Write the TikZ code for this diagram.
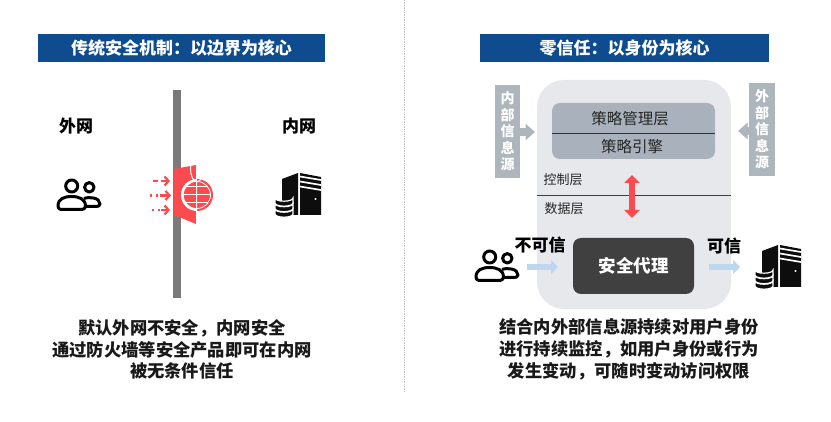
\documentclass[tikz,border=0pt]{standalone}
\usepackage{fontspec}
\setmainfont{Noto Sans CJK SC}
\usetikzlibrary{arrows.meta}
\definecolor{hdr}{HTML}{0F4C8F}
\definecolor{redc}{HTML}{FB4B4E}
\definecolor{panel}{HTML}{E7E8EC}
\definecolor{pol}{HTML}{A9B2BC}
\definecolor{src}{HTML}{ADB5BD}
\definecolor{dark}{HTML}{404040}
\definecolor{blu}{HTML}{BDD7F0}
\newcommand{\usersicon}[1]{%
\begin{scope}[shift={(#1)},line width=3pt,line join=round]
 \draw (28,22.5) .. controls (33,20.5) and (44,21.5) .. (44,28) .. controls (44,30) and (42,30.5) .. (40,30.5) -- (30,30.5);
 \draw[fill=white] (2,30) .. controls (2,23) and (8,20.5) .. (15.5,20.5) .. controls (23,20.5) and (29.5,23) .. (29.5,30) .. controls (29.5,32) and (28,33.5) .. (26,33.5) -- (5,33.5) .. controls (3,33.5) and (2,32) .. (2,30) -- cycle;
 \draw (15.7,10) circle (6);
 \draw (33.3,11.3) circle (4.7);
\end{scope}}
\newcommand{\servericon}[1]{%
\begin{scope}[shift={(#1)}]
 \fill[black!95] (7,6) -- (23,0) -- (23,42) -- (7,42) -- cycle;
 \fill[black!95] (25,0) -- (46,4) -- (46,42) -- (25,42) -- cycle;
 \foreach \y in {3.5,8.5,13.5}{\draw[white,line width=1.7pt] (25,\y) -- (46,\y+3.5);}
 \fill[white] (40.5,26) circle (1.1);
 \foreach \y in {36,30.5,25}{
  \draw[white,line width=1.2pt,fill=black!95] (0,\y) -- (0,\y+5) arc[start angle=180,end angle=0,x radius=9,y radius=3.2] -- (18,\y) arc[start angle=0,end angle=180,x radius=9,y radius=3.2] -- cycle;
 }
\end{scope}}
\tikzset{
 x=1pt,y=-1pt,
 every node/.style={inner sep=0,outer sep=0,align=center},
 header/.style={fill=hdr,text=white,font=\fontsize{17}{20}\selectfont\bfseries},
 label/.style={font=\fontsize{17}{20}\selectfont\bfseries,text=black},
 body/.style={font=\fontsize{17.3}{21.7}\selectfont\bfseries,text=black!90},
 srcbox/.style={fill=src,text=white,font=\fontsize{14}{16.5}\selectfont\bfseries},
 poltext/.style={font=\fontsize{15.5}{17}\selectfont,text=black!85},
 laytext/.style={font=\fontsize{13}{15}\selectfont,text=black!85},
 dart/.style={redc,line width=2.2pt,-{Straight Barb[length=4pt,width=9pt]}},
 fat/.style={line width=6.5pt,-{Triangle[length=7pt,width=14pt]}},
 srcarrow/.style={line width=8.5pt,-{Triangle[length=9.5pt,width=16pt]}},
}
\begin{document}
\begin{tikzpicture}
\useasboundingbox (0,0) rectangle (831,422);
\fill[white] (0,0) rectangle (831,422);
\draw[black!25,densely dotted,line width=.7pt] (404,0) -- (404,392);
% headers
\node[header,minimum width=287pt,minimum height=28pt] (h1) at (181.5,48) {传统安全机制：以边界为核心};
\node[header,minimum width=289pt,minimum height=28pt] (h2) at (624.5,48) {零信任：以身份为核心};
% left
\node[label] (wai) at (76,126) {外网};
\node[label] (nei) at (299,126) {内网};
\usersicon{56,176}
\fill[black!52] (173,90) rectangle (181,298);
\fill[redc] (174,169) -- (196,165) -- (196,224) -- (174,215) -- cycle;
\begin{scope}
 \clip (197,170) rectangle (220,220);
 \fill[redc] (197,195) circle (16);
 \draw[white,line width=.8pt] (197,195) circle (13.5);
\end{scope}
\begin{scope}
 \clip (170,170) rectangle (197,220);
 \fill[white] (197,195) circle (16);
 \fill[redc] (197,195) circle (13.2);
\end{scope}
\draw[white,line width=1.2pt] (196.5,165) -- (196.5,225);
\draw[white,line width=1pt] (197,181.8) arc[start angle=90,end angle=270,x radius=6.5,y radius=13.2];
\draw[white,line width=1pt] (197,181.8) arc[start angle=90,end angle=-90,x radius=6.5,y radius=13.2];
\foreach \yy/\hw in {187/11,195/13.2,203/11}{\draw[white,line width=1pt] (197-\hw,\yy) -- (197+\hw,\yy);}
\draw[redc,line width=2.2pt,dash pattern=on 5pt off 3pt] (153,181) -- (161,181);
\draw[dart] (161,181) -- (170,181);
\draw[redc,line width=2.2pt,dash pattern=on 2pt off 3.5pt] (150,195.5) -- (160,195.5);
\draw[dart] (160,195.5) -- (171,195.5);
\draw[redc,line width=2.2pt,dash pattern=on 2pt off 3.5pt] (152,210) -- (161,210);
\draw[dart] (161,210) -- (170,210);
\servericon{275,173}
\node[body] (t1) at (182,349.5) {默认外网不安全，内网安全\\通过防火墙等安全产品即可在内网\\被无条件信任};
% right
\fill[panel,rounded corners=27pt] (537,80) rectangle (731,309);
\fill[pol,rounded corners=8pt] (552,103) rectangle (715,159);
\draw[black!80,line width=.8pt] (552,133) -- (715,133);
\node[poltext] (p1) at (630,119) {策略管理层};
\node[poltext] (p2) at (632,147) {策略引擎};
\node[laytext] (c1) at (563,180) {控制层};
\node[laytext] (c2) at (564,209) {数据层};
\draw[black!75,line width=.8pt] (537,195) -- (731,195);
\draw[redc,line width=6.5pt,{Triangle[length=8pt,width=15pt]}-{Triangle[length=8pt,width=15pt]}] (632,175) -- (632,218);
\fill[src] (495,85) rectangle (520,178);
\node[srcbox,minimum width=25pt] (s1) at (507.5,131.5) {内\\部\\信\\息\\源};
\fill[src] (749,83) rectangle (775,176);
\node[srcbox,minimum width=26pt] (s2) at (762,129.5) {外\\部\\信\\息\\源};
\coordinate (a1) at (520,132); \coordinate (a2) at (535,132);
\draw[src,srcarrow] (a1) -- (a2);
\coordinate (a3) at (749,131); \coordinate (a4) at (738,131);
\draw[src,srcarrow] (a3) -- (a4);
\node[fill=dark,rounded corners=8pt,minimum width=121pt,minimum height=56pt,text=white,font=\fontsize{17.5}{20}\selectfont\bfseries] (proxy) at (633.5,266) {安全代理};
\usersicon{474,247}
\node[label] (bu) at (540,245) {不可信};
\node[label] (ke) at (724,246) {可信};
\coordinate (b1) at (527,267); \coordinate (b2) at (558,267);
\draw[blu,fat] (b1) -- (b2);
\coordinate (b3) at (709,267); \coordinate (b4) at (740,267);
\draw[blu,fat] (b3) -- (b4);
\servericon{755,245}
\node[body] (t2) at (629,349.5) {结合内外部信息源持续对用户身份\\进行持续监控，如用户身份或行为\\发生变动，可随时变动访问权限};
\end{tikzpicture}
\end{document}
